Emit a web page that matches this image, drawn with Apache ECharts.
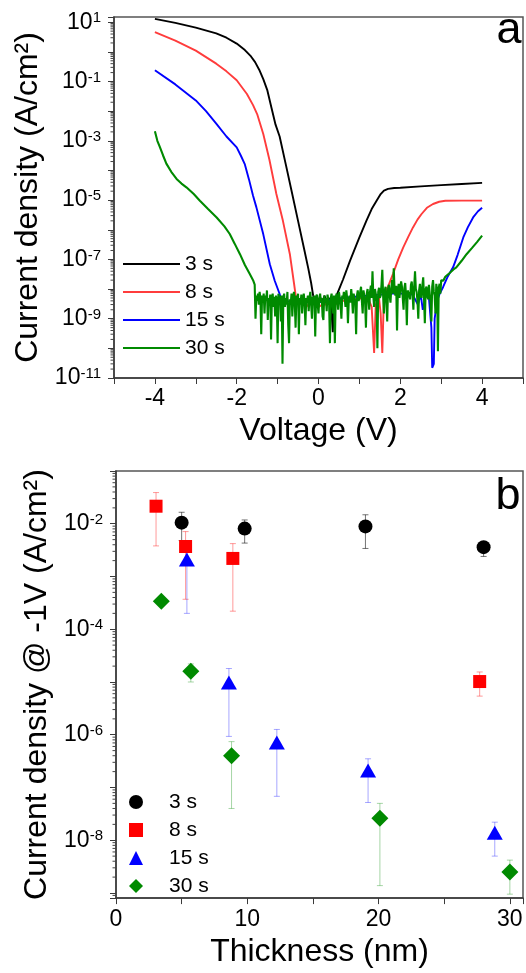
<!DOCTYPE html>
<html>
<head>
<meta charset="utf-8">
<script src="https://cdn.jsdelivr.net/npm/echarts@6/dist/echarts.min.js"></script>
<style>
html, body { margin: 0; padding: 0; background: #fff; }
#chartA { position: absolute; left: 0; top: 0; width: 526px; height: 460px; }
#chartB { position: absolute; left: 0; top: 460px; width: 526px; height: 513px; }
</style>
</head>
<body>
<div id="chartA"></div>
<div id="chartB"></div>
<script>
var FONT = '"Liberation Sans", Arial, sans-serif';
var seriesNames = ['3 s', '8 s', '15 s', '30 s'];
var lineColors = ['#000000', '#ff3c3c', '#0000ff', '#008a00'];
var markColors = ['#000000', '#ff0000', '#0000ff', '#008a00'];
var errColors = ['rgba(0,0,0,0.55)', 'rgba(255,0,0,0.4)', 'rgba(0,0,255,0.35)', 'rgba(0,138,0,0.35)'];

// panel a : [voltage (V), current density (A/cm2)]
var curve3s = [
    [-4, 13], [-3.5, 9.5], [-3, 6.6], [-2.5, 4.2], [-2.25, 3.0], [-2, 1.9], [-1.8, 1.15], [-1.65, 0.7],
    [-1.55, 0.45], [-1.45, 0.25], [-1.35, 0.12], [-1.25, 0.05], [-1.15, 0.013], [-1.05, 3.5e-3],
    [-0.95, 1.4e-3], [-0.8, 1.6e-4], [-0.65, 1.8e-5], [-0.5, 2e-6], [-0.35, 2.2e-7], [-0.25, 5e-8],
    [-0.18, 1.6e-8], [-0.13, 6e-9], [-0.1, 4e-9], [-0.05, 5e-9], [0, 3.5e-9], [0.05, 5e-9], [0.1, 4e-9],
    [0.15, 6e-9], [0.2, 3e-9], [0.25, 5e-9], [0.3, 4e-9], [0.35, 3.5e-10], [0.38, 4e-9], [0.42, 5e-9],
    [0.46, 7e-9], [0.6, 2.1e-8], [0.77, 8.9e-8], [1.0, 5.5e-7], [1.17, 2.0e-6], [1.3, 5e-6], [1.42, 9.5e-6],
    [1.52, 1.6e-5], [1.6, 2.1e-5], [1.7, 2.4e-5], [1.85, 2.55e-5], [2, 2.6e-5], [2.5, 2.9e-5], [3, 3.2e-5],
    [3.5, 3.5e-5], [4, 3.8e-5]
];
var curve8s = [
    [-4, 4.6], [-3.5, 2.4], [-3, 1.1], [-2.5, 0.4], [-2.25, 0.22], [-2, 0.11], [-1.75, 0.038], [-1.6, 0.016],
    [-1.5, 8e-3], [-1.35, 1.7e-3], [-1.2, 2.3e-4], [-1.03, 1.6e-5], [-0.87, 2e-6], [-0.7, 1.5e-7],
    [-0.6, 1.6e-8], [-0.55, 5e-9], [-0.5, 3e-9], [-0.4, 4e-9], [-0.3, 2.5e-9], [-0.2, 3.5e-9], [-0.1, 3e-9],
    [0, 2.5e-9], [0.1, 3e-9], [0.2, 3e-9], [0.3, 3.5e-9], [0.4, 3e-9], [0.5, 3.5e-9], [0.6, 4e-9],
    [0.7, 4e-9], [0.8, 5e-9], [0.9, 4.5e-9], [1.0, 5e-9], [1.1, 4.5e-9], [1.2, 5.5e-9], [1.3, 2.5e-9],
    [1.36, 7e-11], [1.4, 3e-9], [1.48, 5e-9], [1.52, 1.5e-9], [1.56, 7e-11], [1.6, 6e-9], [1.7, 1.2e-8],
    [1.82, 3.2e-8], [1.95, 1e-7], [2.07, 2.5e-7], [2.2, 6e-7], [2.31, 1.2e-6], [2.42, 2.2e-6],
    [2.52, 3.4e-6], [2.65, 5.5e-6], [2.8, 7.4e-6], [2.95, 8.8e-6], [3.1, 9.5e-6], [3.5, 9.6e-6], [4, 9.6e-6]
];
var curve15s = [
    [-4, 0.24], [-3.5, 0.08], [-3, 0.023], [-2.75, 0.01], [-2.5, 3.8e-3], [-2.25, 1.4e-3], [-2, 6e-4],
    [-1.9, 3.2e-4], [-1.8, 1.6e-4], [-1.7, 5e-5], [-1.6, 1.4e-5], [-1.52, 5.8e-6], [-1.35, 7e-7],
    [-1.19, 6.9e-8], [-1.07, 1.9e-8], [-0.95, 6.8e-9], [-0.9, 3.5e-9], [-0.8, 4e-9], [-0.6, 3.5e-9],
    [-0.4, 4e-9], [-0.2, 3.5e-9], [0, 3.5e-9], [0.3, 4.5e-9], [0.6, 5e-9], [0.9, 5.5e-9], [1.2, 6e-9],
    [1.5, 6.5e-9], [1.8, 7e-9], [2.1, 7e-9], [2.3, 6.5e-9], [2.43, 3e-9], [2.5, 6.5e-9], [2.55, 2e-9],
    [2.62, 6e-9], [2.7, 5e-9], [2.76, 5e-10], [2.78, 2.2e-11], [2.82, 3e-11], [2.84, 1e-9], [2.9, 4e-9],
    [2.96, 6.8e-9], [3.05, 1.2e-8], [3.15, 2.5e-8], [3.29, 5.4e-8], [3.4, 1.4e-7], [3.54, 5.5e-7],
    [3.65, 1.2e-6], [3.78, 2.6e-6], [3.9, 4.2e-6], [4, 5.5e-6]
];
var curve30s = [
    [-4, 2.1e-3], [-3.94, 1.0e-3], [-3.88, 6.2e-4], [-3.8, 3.2e-4], [-3.72, 1.7e-4], [-3.6, 9.0e-5],
    [-3.47, 5.2e-5], [-3.35, 3.6e-5], [-3.23, 2.7e-5], [-3.05, 1.6e-5], [-2.9, 9.5e-6], [-2.7, 5.0e-6],
    [-2.49, 2.6e-6], [-2.3, 1.3e-6], [-2.17, 7.2e-7], [-2.05, 3.4e-7], [-1.92, 1.5e-7], [-1.8, 6.5e-8],
    [-1.68, 3.2e-8], [-1.6, 2.0e-8], [-1.56, 1.4e-8],
    [-1.54, 1.0e-9], [-1.52, 6e-9], [-1.50, 4e-9], [-1.48, 7e-9], [-1.46, 3e-9], [-1.44, 8e-9],
    [-1.42, 5e-9], [-1.40, 3e-10], [-1.38, 6e-9], [-1.36, 3.5e-9], [-1.34, 7e-9], [-1.32, 1.5e-9],
    [-1.30, 6e-9], [-1.28, 4e-9], [-1.26, 9e-9], [-1.24, 9e-10], [-1.22, 5e-9], [-1.20, 3e-9],
    [-1.18, 6.5e-9], [-1.16, 2e-10], [-1.14, 5e-9], [-1.12, 7e-9], [-1.10, 2.5e-9], [-1.08, 5.5e-9],
    [-1.06, 1.2e-9], [-1.04, 6e-9], [-1.02, 4e-9], [-1.00, 1.5e-10], [-0.98, 7e-9], [-0.96, 3.5e-9],
    [-0.94, 6e-9], [-0.92, 8e-10], [-0.90, 6e-9], [-0.88, 3e-11], [-0.86, 5e-9], [-0.84, 7e-9],
    [-0.82, 2.5e-9], [-0.80, 5e-9], [-0.78, 3e-9], [-0.76, 8e-9], [-0.74, 6e-10], [-0.72, 1.5e-10],
    [-0.70, 4.5e-9], [-0.68, 3e-9], [-0.66, 7e-9], [-0.64, 1.2e-9], [-0.62, 5e-9], [-0.60, 8e-9],
    [-0.58, 3.5e-9], [-0.56, 5e-10], [-0.54, 6e-9], [-0.52, 4e-9], [-0.50, 7e-9], [-0.48, 3e-10],
    [-0.46, 5e-9], [-0.44, 3e-9], [-0.42, 6.5e-9], [-0.40, 1.5e-9], [-0.38, 4.5e-9], [-0.36, 7e-9],
    [-0.34, 3.5e-9], [-0.32, 6e-10], [-0.30, 5e-9], [-0.28, 4e-9], [-0.26, 6e-9], [-0.24, 1.8e-9],
    [-0.22, 5e-9], [-0.20, 8e-9], [-0.18, 3e-9], [-0.16, 1e-9], [-0.14, 5.5e-9], [-0.12, 4e-9],
    [-0.10, 6e-9], [-0.08, 2.5e-10], [-0.06, 5e-9], [-0.04, 6.5e-9], [-0.02, 3e-9], [0.00, 1.5e-9],
    [0.02, 5e-9], [0.04, 7e-9], [0.06, 3.5e-9], [0.08, 5e-9], [0.10, 1.2e-9], [0.12, 9e-10],
    [0.14, 6e-9], [0.16, 4e-9], [0.18, 5e-9], [0.20, 1.8e-9], [0.22, 6.5e-9], [0.24, 4.5e-9],
    [0.26, 3e-9], [0.28, 1.5e-10], [0.30, 5e-9], [0.32, 7e-9], [0.34, 3.5e-9], [0.36, 1.5e-9],
    [0.38, 6e-9], [0.40, 1.5e-10], [0.42, 4.5e-9], [0.44, 7e-9], [0.46, 5e-9], [0.48, 2e-9],
    [0.50, 8e-9], [0.52, 5e-9], [0.54, 3e-9], [0.56, 1e-9], [0.58, 6e-9], [0.60, 4.5e-9],
    [0.62, 8e-9], [0.64, 5e-9], [0.66, 2.5e-9], [0.68, 9e-9], [0.70, 5e-9], [0.72, 7e-10],
    [0.74, 4e-9], [0.76, 6e-9], [0.78, 3.5e-9], [0.80, 1e-8], [0.82, 5e-9], [0.84, 1.5e-9],
    [0.86, 7e-9], [0.88, 5e-9], [0.90, 3e-9], [0.92, 3e-10], [0.94, 6e-9], [0.96, 9e-9],
    [0.98, 4e-9], [1.00, 5e-9], [1.02, 8e-9], [1.04, 1.2e-8], [1.06, 4e-9], [1.08, 1.5e-9],
    [1.10, 9e-9], [1.12, 6e-9], [1.14, 3.5e-9], [1.16, 5e-10], [1.18, 7e-9], [1.20, 1e-8],
    [1.22, 5e-9], [1.24, 2e-9], [1.26, 8e-9], [1.28, 1.3e-8], [1.30, 5e-9], [1.32, 4e-8],
    [1.34, 6e-9], [1.36, 2.5e-9], [1.38, 1e-8], [1.40, 7e-9], [1.42, 4e-9], [1.44, 1e-10],
    [1.46, 8e-9], [1.48, 1.1e-8], [1.50, 5e-9], [1.52, 6e-9], [1.54, 1.4e-8], [1.56, 4.5e-8],
    [1.58, 6e-9], [1.60, 1.5e-9], [1.62, 9e-9], [1.64, 1.2e-8], [1.66, 4e-9], [1.68, 8e-10],
    [1.70, 1e-8], [1.72, 1.4e-8], [1.74, 6e-9], [1.76, 3.5e-9], [1.78, 1.1e-8], [1.80, 2e-8],
    [1.82, 7e-9], [1.84, 5e-8], [1.86, 9e-9], [1.88, 6e-9], [1.90, 1.3e-8], [1.92, 4e-10],
    [1.94, 8e-9], [1.96, 1.5e-8], [1.98, 5e-9], [2.00, 1e-8], [2.02, 1.8e-8], [2.04, 1.2e-8],
    [2.06, 5e-9], [2.08, 2e-9], [2.10, 1.1e-8], [2.12, 1.6e-8], [2.14, 6e-9], [2.16, 6e-10],
    [2.18, 9e-9], [2.20, 1e-8], [2.22, 6e-9], [2.24, 4.5e-9], [2.26, 1.4e-8], [2.28, 1.8e-8],
    [2.30, 7e-9], [2.32, 2e-9], [2.34, 1.2e-8], [2.36, 4e-8], [2.38, 1e-8], [2.40, 8e-9],
    [2.42, 4e-9], [2.44, 1e-9], [2.46, 9e-9], [2.48, 1.5e-8], [2.50, 6e-9], [2.52, 5e-9],
    [2.54, 1.3e-8], [2.56, 2.5e-8], [2.58, 5e-9], [2.60, 7e-10], [2.62, 1e-8], [2.64, 1.2e-8],
    [2.66, 6e-9], [2.68, 4.5e-9], [2.70, 1.4e-8], [2.72, 1.5e-8], [2.74, 3.5e-9], [2.76, 8e-10],
    [2.78, 1.2e-8], [2.80, 2e-8], [2.82, 8e-9], [2.84, 6e-9], [2.86, 1.5e-9], [2.88, 1.5e-8],
    [2.90, 9e-9], [2.92, 8e-11], [2.94, 1.1e-8], [2.96, 1.5e-8], [2.98, 7e-9], [3.00, 2e-8],
    [3.05, 1.9e-8], [3.1, 2.6e-8], [3.2, 3.4e-8], [3.3, 4.6e-8], [3.37, 5.4e-8], [3.5, 9e-8], [3.62, 1.5e-7],
    [3.75, 2.4e-7], [3.88, 3.9e-7], [4, 6.3e-7]
];

// panel b : thickness (nm), current density @ -1V and error bar ends
var thick3s = [5.0, 9.8, 19.0, 28.0];
var jd3s = [1.05e-2, 8.1e-3, 8.9e-3, 3.6e-3];
var lo3s = [4.8e-3, 4.3e-3, 3.4e-3, 2.4e-3];
var hi3s = [1.65e-2, 1.18e-2, 1.48e-2, 4.0e-3];

var thick8s = [3.05, 5.3, 8.9, 27.7];
var jd8s = [2.15e-2, 3.7e-3, 2.2e-3, 1.02e-5];
var lo8s = [3.8e-3, 3.7e-4, 2.2e-4, 5.4e-6];
var hi8s = [3.9e-2, 7.1e-3, 4.2e-3, 1.55e-5];

var thick15s = [5.4, 8.6, 12.25, 19.2, 28.85];
var jd15s = [2.1e-3, 9.8e-6, 7.1e-7, 2.1e-7, 1.38e-8];
var lo15s = [2.0e-4, 9.3e-7, 6.8e-8, 5.2e-8, 5.0e-9];
var hi15s = [3.9e-3, 1.8e-5, 1.26e-6, 3.5e-7, 2.2e-8];

var thick30s = [3.45, 5.7, 8.8, 20.1, 30.0];
var jd30s = [3.4e-4, 1.6e-5, 4.0e-7, 2.6e-8, 2.5e-9];
var lo30s = [null, 1.0e-5, 4.0e-8, 1.38e-9, 9.5e-10];
var hi30s = [null, 2.2e-5, 7.4e-7, 5.0e-8, 4.2e-9];

var symbols = ['circle', 'rect', 'triangle', 'diamond'];
var symbolSizes = [14, 13, [16, 14], 17];

// log axis label, 10 with superscript exponent
function powLabel(odd) {
    return function (v) {
        if (!(v > 0)) return '';
        var e = Math.log10(v);
        var r = Math.round(e);
        if (Math.abs(e - r) > 1e-6) return '';
        var isOdd = Math.abs(r) % 2 === 1;
        if (isOdd !== odd) return '';
        return '{b|10}{s|' + r + '}';
    };
}
var powRich = {
    b: { fontFamily: FONT, fontSize: 23, color: '#000', lineHeight: 23 },
    s: { fontFamily: FONT, fontSize: 15, color: '#000', lineHeight: 15, verticalAlign: 'top' }
};

// minor ticks at 2..9 of each decade
function minorValues(eFrom, eTo, lo, hi) {
    var out = [];
    for (var e = eFrom; e <= eTo; e++) {
        for (var k = 2; k <= 9; k++) {
            var v = k * Math.pow(10, e);
            if (v > lo && v < hi) out.push(v);
        }
    }
    return out;
}
function minorTickSeries(xPos, vals) {
    return {
        type: 'custom',
        name: 'minor',
        silent: true,
        clip: false,
        data: vals.map(function (v) { return [xPos, v]; }),
        encode: { x: 0, y: 1 },
        renderItem: function (params, api) {
            var p = api.coord([api.value(0), api.value(1)]);
            return {
                type: 'line',
                shape: { x1: p[0] - 3.5, y1: p[1], x2: p[0], y2: p[1] },
                style: { stroke: '#444', lineWidth: 1 }
            };
        }
    };
}
function errSeries(idx, xs, los, his) {
    var d = [];
    for (var i = 0; i < xs.length; i++) {
        if (los[i] != null) d.push([xs[i], los[i], his[i]]);
    }
    return {
        type: 'custom',
        name: 'err' + idx,
        silent: true,
        z: 1,
        data: d,
        encode: { x: 0, y: [1, 2] },
        renderItem: function (params, api) {
            var a = api.coord([api.value(0), api.value(1)]);
            var b = api.coord([api.value(0), api.value(2)]);
            var st = { stroke: errColors[idx], lineWidth: 1 };
            return {
                type: 'group',
                children: [
                    { type: 'line', shape: { x1: a[0], y1: a[1], x2: b[0], y2: b[1] }, style: st },
                    { type: 'line', shape: { x1: a[0] - 3, y1: a[1], x2: a[0] + 3, y2: a[1] }, style: st },
                    { type: 'line', shape: { x1: b[0] - 3, y1: b[1], x2: b[0] + 3, y2: b[1] }, style: st }
                ]
            };
        }
    };
}

var axisLineStyle = { show: true, onZero: false, lineStyle: { color: '#3a3a3a', width: 1.5 } };
var axisTickStyle = { show: true, inside: false, length: 6, lineStyle: { color: '#3a3a3a', width: 1 } };
var nameStyle = { fontFamily: FONT, fontSize: 32, color: '#000' };

var chartA = echarts.init(document.getElementById('chartA'));
var curves = [curve3s, curve8s, curve15s, curve30s];
var seriesA = curves.map(function (c, i) {
    return {
        type: 'line',
        name: seriesNames[i],
        data: c,
        symbol: 'none',
        showSymbol: false,
        lineStyle: { color: lineColors[i], width: i === 3 ? 2.1 : 1.9 },
        itemStyle: { color: lineColors[i] },
        z: 2 + i
    };
});
seriesA.push(minorTickSeries(-5, minorValues(-11, 0, 1e-11, 15)));

chartA.setOption({
    animation: false,
    grid: { left: 114, top: 17, right: 3, bottom: 82, show: true, borderColor: '#555', borderWidth: 1.5 },
    legend: {
        orient: 'vertical', left: 123, top: 250, padding: 0, itemGap: 0,
        itemWidth: 57, itemHeight: 2, symbolKeepAspect: false,
        data: seriesNames.map(function (n) { return { name: n, icon: 'rect' }; }),
        textStyle: { fontFamily: FONT, fontSize: 21, color: '#000', lineHeight: 28 }
    },
    xAxis: {
        type: 'value', min: -5, max: 5, interval: 1,
        axisLine: axisLineStyle, axisTick: axisTickStyle, splitLine: { show: false },
        axisLabel: {
            fontFamily: FONT, fontSize: 23, color: '#000', margin: 9,
            formatter: function (v) { return (v % 2 === 0 && Math.abs(v) < 5) ? String(v) : ''; }
        },
        name: 'Voltage (V)', nameLocation: 'middle', nameGap: 31, nameTextStyle: nameStyle
    },
    yAxis: {
        type: 'log', logBase: 10, min: 1e-11, max: 15, interval: 1,
        axisLine: axisLineStyle, axisTick: axisTickStyle, splitLine: { show: false },
        axisLabel: { margin: 13, formatter: powLabel(true), rich: powRich },
        name: 'Current density (A/cm²)', nameLocation: 'middle', nameGap: 64, nameTextStyle: nameStyle
    },
    graphic: [{
        type: 'text', x: 509, y: 31,
        style: { text: 'a', font: '45px "Liberation Sans", Arial, sans-serif', fill: '#000', align: 'center', verticalAlign: 'middle' }
    }],
    series: seriesA
});

var chartB = echarts.init(document.getElementById('chartB'));
var groupsB = [
    [thick3s, jd3s, lo3s, hi3s],
    [thick8s, jd8s, lo8s, hi8s],
    [thick15s, jd15s, lo15s, hi15s],
    [thick30s, jd30s, lo30s, hi30s]
];
var seriesB = [];
groupsB.forEach(function (g, i) {
    seriesB.push(errSeries(i, g[0], g[2], g[3]));
});
groupsB.forEach(function (g, i) {
    seriesB.push({
        type: 'scatter',
        name: seriesNames[i],
        data: g[0].map(function (t, k) { return [t, g[1][k]]; }),
        symbol: symbols[i],
        symbolSize: symbolSizes[i],
        itemStyle: { color: markColors[i], opacity: 1 },
        z: 5
    });
});
seriesB.push(minorTickSeries(0, minorValues(-10, -2, 8e-10, 0.1)));

chartB.setOption({
    animation: false,
    grid: { left: 116, top: 11, right: 3, bottom: 67, show: true, borderColor: '#555', borderWidth: 1.5 },
    legend: {
        orient: 'vertical', left: 129, top: 328, padding: 0, itemGap: 0,
        itemWidth: 14, itemHeight: 14,
        data: [
            { name: '3 s', icon: 'circle' }, { name: '8 s', icon: 'rect' },
            { name: '15 s', icon: 'triangle' }, { name: '30 s', icon: 'diamond' }
        ],
        formatter: function (name) { return '{t|' + name + '}'; },
        textStyle: {
            fontFamily: FONT, fontSize: 21, color: '#000', lineHeight: 28,
            rich: { t: { fontFamily: FONT, fontSize: 21, color: '#000', lineHeight: 28, padding: [0, 0, 0, 21] } }
        }
    },
    xAxis: {
        type: 'value', min: 0, max: 31, interval: 5,
        axisLine: axisLineStyle, axisTick: axisTickStyle, splitLine: { show: false },
        axisLabel: {
            fontFamily: FONT, fontSize: 23, color: '#000', margin: 10,
            formatter: function (v) { return v % 10 === 0 ? String(v) : ''; }
        },
        name: 'Thickness (nm)', nameLocation: 'middle', nameGap: 33, nameTextStyle: nameStyle
    },
    yAxis: {
        type: 'log', logBase: 10, min: 8e-10, max: 0.1,
        axisLine: axisLineStyle, axisTick: axisTickStyle, splitLine: { show: false },
        axisLabel: { margin: 13, formatter: powLabel(false), rich: powRich },
        name: 'Current density @ -1V (A/cm²)', nameLocation: 'middle', nameGap: 60, nameTextStyle: nameStyle
    },
    graphic: [{
        type: 'text', x: 508, y: 37,
        style: { text: 'b', font: '45px "Liberation Sans", Arial, sans-serif', fill: '#000', align: 'center', verticalAlign: 'middle' }
    }],
    series: seriesB
});
</script>
</body>
</html>
